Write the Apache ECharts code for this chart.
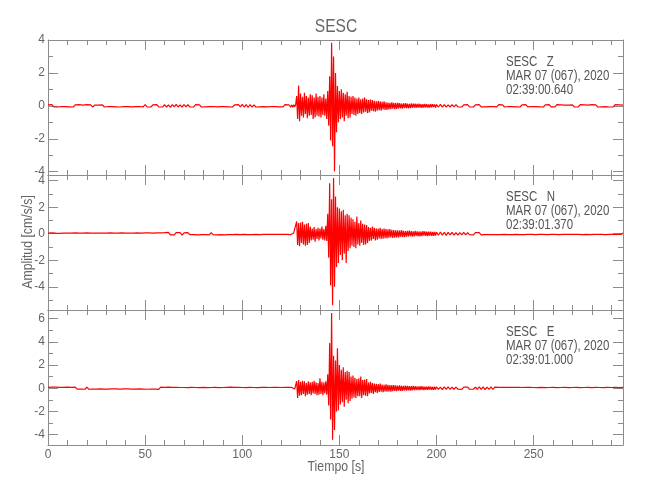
<!DOCTYPE html>
<html>
<head>
<meta charset="utf-8">
<script src="https://cdn.jsdelivr.net/npm/echarts@6/dist/echarts.min.js"></script>
<style>html,body{margin:0;padding:0;background:#fff}#c{width:650px;height:500px}</style>
</head>
<body>
<div id="c"></div>
<script>
// ---------- DATA ----------
const TITLE = 'SESC';
const X_NAME = 'Tiempo [s]';
const Y_NAME = 'Amplitud [cm/s/s]';
const X_MIN = 0, X_MAX = 296;
const X_MAJOR = [0, 50, 100, 150, 200, 250];
const X_MINOR = [10,20,30,40,60,70,80,90,110,120,130,140,160,170,180,190,210,220,230,240,260,270,280,290];

const CHANNELS = ['Z', 'N', 'E'];
const STARTS = ['02:39:00.640', '02:39:01.370', '02:39:01.000'];
const DATE_TXT = 'MAR 07 (067), 2020';
const Y_MINS = [-4.2, -5.75, -4.9];
const Y_MAXS = [4.0, 4.43, 6.75];
const Y_MAJOR = [[-4,-2,0,2,4], [-4,-2,0,2,4], [-4,-2,0,2,4,6]];
const Y_MINOR = [[-3,-1,1,3], [-5,-3,-1,1,3], [-3,-1,1,3,5]];

// sampling: 0..124 s every 1 s, 125..199.5 s every 0.5 s, 200..296 s every 1 s
const Z_PRE = [.06,-.05,.07,-.06,.04,-.07,.05,-.04,.06,-.05,
 .05,-.06,.04,-.07,.06,-.05,.07,-.04,.05,-.06,
 .07,-.05,.06,-.08,.05,-.06,.04,-.05,.06,-.07,
 .05,-.04,.06,-.05,.07,-.06,.05,-.07,.04,-.05,
 .06,-.05,.05,-.06,.04,-.05,.06,-.04,.05,-.06,
 .07,-.06,.05,-.07,.06,-.05,.08,-.06,.05,-.07,
 .08,-.07,.06,-.09,.07,-.06,.09,-.07,.06,-.08,
 .07,-.06,.08,-.07,.05,-.06,.07,-.05,.06,-.07,
 .05,-.06,.04,-.05,.06,-.04,.05,-.06,.04,-.05,
 .06,-.05,.07,-.06,.05,-.07,.06,-.05,.08,-.06,
 .09,-.07,.08,-.1,.07,-.08,.06,-.07,.05,-.06,
 .06,-.05,.07,-.06,.05,-.04,.06,-.05,.07,-.06,
 .05,-.06,.07,-.05,.06];
const Z_MAIN = [-.07,.06,-.08,.07,-.06,.08,
 .6,-.8,1.24,-.93,
 .75,-.6,.55,-.7,.8,-.5,.6,-.75,.5,-.6,
 .7,-.55,.65,-.8,.5,-.7,.75,-.6,.55,-.65,
 .6,-.7,.5,-.55,.7,-.6,.45,-.8,.9,-1.2,
 1.8,-2.1,3.84,-2.46,3.0,-3.98,2.0,-1.6,1.2,-1.0,
 .9,-.8,1.0,-.7,.8,-.93,.7,-.6,.85,-.75,
 .6,-.7,.55,-.5,.6,-.55,.5,-.6,.45,-.5,
 .5,-.45,.4,-.5,.45,-.4,.5,-.35,.4,-.45,
 .35,-.4,.38,-.3,.35,-.33,.3,-.35,.28,-.3,
 .3,-.26,.28,-.3,.25,-.22,.27,-.25,.22,-.24,
 .2,-.22,.18,-.2,.22,-.17,.19,-.2,.16,-.18,
 .18,-.15,.17,-.16,.14,-.17,.15,-.13,.16,-.14,
 .13,-.15,.12,-.14,.15,-.12,.13,-.11,.14,-.12,
 .12,-.1,.13,-.11,.1,-.12,.11,-.1,.12,-.09,
 .1,-.11,.09,-.1,.11,-.09,.1,-.08,.09,-.1];
const Z_POST = [.08,-.07,.09,-.08,.07,-.08,.06,-.07,.08,-.06,
 .07,-.06,.05,-.07,.06,-.05,.07,-.06,.05,-.07,
 .06,-.05,.07,-.06,.05,-.06,.04,-.05,.06,-.05,
 .05,-.06,.07,-.05,.06,-.07,.05,-.04,.06,-.05,
 .07,-.06,.05,-.07,.06,-.05,.07,-.06,.05,-.04,
 .06,-.05,.04,-.06,.05,-.07,.06,-.05,.07,-.06,
 .05,-.06,.07,-.05,.06,-.04,.05,-.06,.04,-.05,
 .06,-.07,.05,-.06,.07,-.05,.06,-.04,.05,-.06,
 .07,-.05,.06,-.07,.05,-.06,.04,-.05,.06,-.07,
 .05,-.06,.07,-.05,.06,-.04,.05];

const N_PRE = [.05,-.04,.06,-.05,.04,-.05,.03,-.04,.05,-.04,
 .04,-.05,.05,-.04,.06,-.05,.04,-.03,.05,-.04,
 .06,-.05,.04,-.06,.05,-.04,.05,-.05,.04,-.06,
 .05,-.04,.06,-.05,.04,-.06,.05,-.04,.06,-.05,
 .04,-.05,.05,-.06,.04,-.05,.06,-.04,.05,-.06,
 .06,-.05,.07,-.06,.05,-.07,.06,-.08,.07,-.06,
 .08,-.07,.1,-.08,.07,-.09,.08,-.07,.09,-.1,
 .07,-.08,.09,-.07,.08,-.06,.07,-.08,.06,-.07,
 .08,-.06,.07,-.08,.09,-.07,.06,-.08,.07,-.06,
 .07,-.08,.06,-.07,.08,-.06,.07,-.05,.06,-.07,
 .06,-.05,.07,-.06,.05,-.07,.06,-.05,.04,-.06,
 .05,-.04,.06,-.05,.04,-.05,.06,-.04,.05,-.05,
 .04,-.05,.06,-.04,.05];
const N_MAIN = [-.06,.05,-.07,.06,-.05,.08,
 .93,-.85,.8,-.95,
 .85,-.7,.9,-.8,.7,-.9,.75,-.85,.8,-.7,
 .55,-.5,.4,-.45,.5,-.6,.35,-.4,.45,-.5,
 .4,-.35,.55,-.45,.35,-.5,.6,-.55,1.5,-1.8,
 3.8,-3.9,2.6,-5.4,4.2,-4.0,2.8,-2.5,2.0,-2.2,
 1.9,-1.6,1.7,-2.0,1.8,-1.5,1.4,-2.2,1.5,-1.3,
 1.4,-1.1,1.2,-.9,1.1,-1.0,.9,-1.1,1.3,-.8,
 .8,-.9,1.0,-.7,.75,-.85,.7,-.8,.65,-.7,
 .5,-.55,.45,-.5,.55,-.4,.45,-.5,.4,-.45,
 .4,-.35,.45,-.4,.35,-.38,.4,-.33,.36,-.35,
 .33,-.3,.35,-.28,.3,-.32,.28,-.3,.26,-.28,
 .25,-.27,.24,-.22,.28,-.23,.22,-.25,.2,-.22,
 .22,-.2,.24,-.18,.2,-.21,.18,-.2,.22,-.17,
 .18,-.2,.17,-.19,.16,-.18,.2,-.15,.17,-.16,
 .15,-.17,.16,-.14,.15,-.16,.13,-.15,.14,-.13];
const N_POST = [.12,-.11,.13,-.1,.11,-.12,.1,-.09,.11,-.1,
 .09,-.1,.08,-.09,.1,-.08,.09,-.07,.08,-.09,
 .08,-.07,.09,-.08,.07,-.06,.08,-.07,.06,-.07,
 .07,-.06,.05,-.07,.06,-.05,.07,-.06,.05,-.06,
 .06,-.05,.07,-.06,.05,-.06,.04,-.05,.06,-.05,
 .05,-.06,.04,-.05,.06,-.04,.05,-.06,.05,-.04,
 .06,-.05,.04,-.06,.05,-.04,.06,-.05,.04,-.05,
 .05,-.04,.06,-.05,.04,-.06,.05,-.04,.05,-.06,
 .04,-.05,.06,-.04,.05,-.05,.04,-.06,.05,-.04,
 .05,-.04,.06,-.05,.04,-.05,.06];

const E_PRE = [.08,-.07,.09,-.08,.1,-.07,.08,-.09,.07,-.08,
 .09,-.08,.07,-.09,.1,-.08,.09,-.07,.08,-.09,
 .1,-.09,.08,-.07,.09,-.08,.07,-.06,.08,-.07,
 .06,-.07,.08,-.06,.07,-.05,.06,-.07,.05,-.06,
 .07,-.06,.08,-.07,.06,-.08,.07,-.06,.08,-.07,
 .08,-.09,.07,-.08,.09,-.07,.08,-.1,.09,-.08,
 .07,-.08,.09,-.07,.08,-.06,.07,-.08,.06,-.07,
 .06,-.07,.05,-.06,.07,-.05,.06,-.07,.05,-.06,
 .07,-.06,.05,-.07,.06,-.05,.07,-.06,.05,-.06,
 .06,-.07,.08,-.06,.09,-.08,.07,-.06,.08,-.07,
 .06,-.07,.05,-.06,.07,-.05,.06,-.07,.05,-.06,
 .07,-.06,.08,-.07,.06,-.08,.07,-.06,.08,-.07,
 .06,-.07,.08,-.06,.07];
const E_MAIN = [-.08,.07,-.09,.08,-.07,.09,
 .6,-.85,.7,-.65,
 .55,-.6,.65,-.5,.6,-.7,.45,-.55,.6,-.5,
 .5,-.6,.55,-.45,.65,-.5,.5,-.6,.45,-.55,
 .86,-.5,.55,-.6,.5,-.45,.6,-.55,1.2,-1.5,
 3.9,-2.7,6.5,-4.45,2.8,-3.6,2.4,-2.0,3.45,-1.9,
 2.0,-1.4,1.6,-1.2,1.8,-1.6,1.4,-1.0,1.5,-1.3,
 1.4,-1.1,1.0,-.9,1.1,-.8,.9,-.85,.8,-.7,
 .85,-.7,1.0,-.85,.7,-.6,.75,-.65,.8,-.7,
 .5,-.45,.55,-.4,.45,-.5,.4,-.35,.38,-.4,
 .35,-.33,.4,-.3,.32,-.35,.3,-.28,.33,-.3,
 .3,-.28,.26,-.3,.28,-.25,.27,-.24,.25,-.26,
 .22,-.2,.24,-.22,.2,-.23,.21,-.19,.22,-.2,
 .2,-.18,.19,-.2,.17,-.18,.2,-.16,.18,-.17,
 .16,-.17,.15,-.16,.17,-.14,.15,-.16,.14,-.15,
 .14,-.13,.15,-.12,.13,-.14,.12,-.13,.14,-.12];
const E_POST = [.12,-.11,.1,-.12,.11,-.1,.12,-.11,.1,-.09,
 .1,-.09,.08,-.1,.09,-.08,.1,-.09,.08,-.09,
 .1,-.09,.12,-.1,.11,-.12,.1,-.11,.12,-.1,
 .09,-.08,.07,-.09,.08,-.07,.08,-.06,.07,-.08,
 .07,-.06,.08,-.07,.06,-.07,.08,-.06,.07,-.06,
 .06,-.07,.05,-.06,.07,-.06,.05,-.07,.06,-.05,
 .07,-.06,.05,-.07,.06,-.05,.07,-.06,.05,-.06,
 .06,-.05,.07,-.06,.05,-.07,.06,-.05,.07,-.06,
 .05,-.06,.07,-.05,.06,-.07,.05,-.06,.07,-.05,
 .06,-.05,.07,-.06,.05,-.06,.07];

// ---------- BUILD ----------
const SEG = [{t0: 0, dt: 1}, {t0: 125, dt: 0.5}, {t0: 200, dt: 1}];
function trace(pre, main, post) {
  const out = [];
  [pre, main, post].forEach((arr, s) => {
    arr.forEach((v, i) => out.push([SEG[s].t0 + i * SEG[s].dt, v]));
  });
  return out;
}
const TRACES = [trace(Z_PRE, Z_MAIN, Z_POST), trace(N_PRE, N_MAIN, N_POST), trace(E_PRE, E_MAIN, E_POST)];

const FONT = '"Liberation Sans", Arial, sans-serif';
const AX = '#8c8c8c', TXT = '#666666', ANN = '#555555';
const GL = 48, GR = 27, GT = [40, 175, 310], GH = 135;
const NARROW = 0.82;

const grids = [], xAxis = [], yAxis = [], series = [], graphic = [];
for (let g = 0; g < 3; g++) {
  grids.push({left: GL, right: GR, top: GT[g], height: GH, containLabel: false});
  const xb = {type: 'value', gridIndex: g, min: X_MIN, max: X_MAX, splitLine: {show: false}};
  const mk = (pos, vals, len, line, label) => ({
    ...xb, position: pos,
    axisLine: {show: line, onZero: false, lineStyle: {color: AX, width: 1}},
    axisTick: {show: true, inside: true, length: len, customValues: vals, lineStyle: {color: AX}},
    axisLabel: {show: label, customValues: vals, color: TXT, fontSize: 12, fontFamily: FONT, margin: 4}
  });
  xAxis.push(mk('bottom', X_MAJOR, 10, true, g === 2));
  xAxis.push(mk('bottom', X_MINOR, 5, false, false));
  xAxis.push(mk('top', X_MAJOR, 10, true, false));
  xAxis.push(mk('top', X_MINOR, 5, false, false));

  const yb = {type: 'value', gridIndex: g, min: Y_MINS[g], max: Y_MAXS[g], splitLine: {show: false}};
  const my = (pos, vals, len, line, label) => ({
    ...yb, position: pos,
    axisLine: {show: line, onZero: false, lineStyle: {color: AX, width: 1}},
    axisTick: {show: true, inside: true, length: len, customValues: vals, lineStyle: {color: AX}},
    axisLabel: {show: label, customValues: vals, color: TXT, fontSize: 12, fontFamily: FONT, margin: 3}
  });
  yAxis.push(my('left', Y_MAJOR[g], 10, true, true));
  yAxis.push(my('left', Y_MINOR[g], 5, false, false));
  yAxis.push(my('right', Y_MAJOR[g], 10, true, false));
  yAxis.push(my('right', Y_MINOR[g], 5, false, false));

  series.push({
    type: 'line', xAxisIndex: 4 * g, yAxisIndex: 4 * g, data: TRACES[g],
    showSymbol: false, symbol: 'none', sampling: null, silent: true,
    lineStyle: {color: '#ff0000', width: 1.2}
  });

  const lines = [TITLE + '   ' + CHANNELS[g], DATE_TXT, STARTS[g]];
  lines.forEach((txt, k) => graphic.push({
    type: 'text', x: 506, y: GT[g] + 22 + 14 * k, scaleX: NARROW, silent: true,
    style: {text: txt, font: '14px ' + FONT, fill: ANN, align: 'left', verticalAlign: 'middle'}
  }));
}
graphic.push({type: 'text', x: 336, y: 27, scaleX: NARROW, silent: true,
  style: {text: TITLE, font: '19px ' + FONT, fill: TXT, align: 'center', verticalAlign: 'middle'}});
graphic.push({type: 'text', x: 336, y: 467, scaleX: NARROW, silent: true,
  style: {text: X_NAME, font: '15px ' + FONT, fill: TXT, align: 'center', verticalAlign: 'middle'}});
graphic.push({type: 'text', x: 28, y: 242, rotation: Math.PI / 2, scaleX: NARROW, silent: true,
  style: {text: Y_NAME, font: '15px ' + FONT, fill: TXT, align: 'center', verticalAlign: 'middle'}});

const chart = echarts.init(document.getElementById('c'), null, {renderer: 'canvas'});
chart.setOption({
  animation: false,
  backgroundColor: '#ffffff',
  grid: grids, xAxis, yAxis, series, graphic
});
</script>
</body>
</html>
